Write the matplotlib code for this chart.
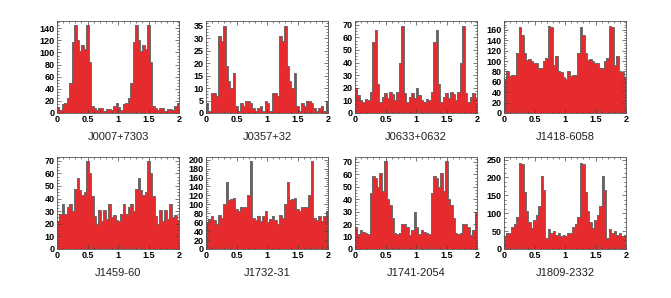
import numpy as np
import matplotlib
matplotlib.use("Agg")
import matplotlib.pyplot as plt
from matplotlib.ticker import MultipleLocator, AutoMinorLocator

plt.rcParams['font.family'] = ['Liberation Sans', 'DejaVu Sans']

# one rotation of each phaseogram (25 bins), shown twice (phase 0-2)
names = ["J0007+7303", "J0357+32", "J0633+0632", "J1418-6058",
         "J1459-60", "J1732-31", "J1741-2054", "J1809-2332"]

j0007 = [10, 5, 15, 16, 25, 50, 118, 145, 120, 103, 112, 105, 145, 85, 12,
         8, 5, 8, 9, 4, 7, 6, 5, 12, 16]
j0357 = [4, 1, 8, 8, 7, 31, 29, 35, 19, 13, 10, 16, 3, 1, 4, 3, 5, 5, 4, 2,
         1, 2, 3, 1, 5]
j0633 = [20, 14, 10, 9, 11, 10, 17, 56, 66, 23, 9, 13, 16, 12, 17, 15, 10,
         17, 40, 69, 16, 9, 13, 16, 12]
j1418 = [65, 80, 72, 74, 74, 115, 165, 150, 115, 102, 103, 101, 96, 96, 87,
         87, 100, 105, 168, 165, 92, 110, 80, 78, 70]
j1459 = [22, 28, 36, 28, 33, 36, 30, 48, 56, 47, 43, 45, 70, 60, 42, 26, 20,
         31, 22, 31, 24, 36, 25, 27, 23]
j1732 = [60, 68, 73, 65, 57, 77, 70, 100, 150, 110, 112, 115, 90, 85, 95, 93,
         95, 120, 198, 70, 65, 75, 62, 75, 85]
j1741 = [18, 12, 15, 14, 13, 12, 45, 59, 57, 50, 61, 47, 71, 40, 35, 25, 13,
         12, 13, 20, 20, 18, 11, 15, 30]
j1809 = [35, 45, 45, 62, 70, 90, 240, 238, 160, 105, 75, 60, 80, 95, 120, 205,
         165, 30, 57, 45, 50, 40, 45, 35, 40]

profiles = [j0007, j0357, j0633, j1418, j1459, j1732, j1741, j1809]
ytops = [152, 37, 73, 177, 73, 206, 74, 257]
ysteps = [20, 5, 10, 20, 10, 20, 10, 50]

W, H = 671, 298
fig = plt.figure(figsize=(W / 100, H / 100), dpi=100)

lefts = [57, 206, 355, 504]
tops = [21, 157]
aw, ah = 122, 92

for i, (name, prof) in enumerate(zip(names, profiles)):
    r, c = divmod(i, 4)
    ax = fig.add_axes([lefts[c] / W, 1 - (tops[r] + ah) / H, aw / W, ah / H])
    vals = np.concatenate([prof, prof])
    edges = np.linspace(0, 2, len(vals) + 1)
    ax.stairs(vals, edges, fill=True, color="#e62b2e", lw=0)
    ax.stairs(vals, edges, color="#6b6b6b", lw=0.7)
    ax.set_xlim(0, 2)
    ax.set_ylim(0, ytops[i])
    ax.xaxis.set_major_locator(MultipleLocator(0.5))
    ax.xaxis.set_minor_locator(MultipleLocator(0.1))
    ax.yaxis.set_major_locator(MultipleLocator(ysteps[i]))
    ax.yaxis.set_minor_locator(AutoMinorLocator(4))
    ax.xaxis.set_major_formatter(plt.FuncFormatter(lambda v, p: f"{v:g}"))
    ax.tick_params(which="both", direction="in", top=True, right=True,
                   labelsize=6.5, pad=1.5, width=0.5, color="#444444")
    ax.tick_params(which="major", length=3)
    ax.tick_params(which="minor", length=1.5)
    for lab in ax.get_xticklabels() + ax.get_yticklabels():
        lab.set_fontweight("bold")
    for s in ax.spines.values():
        s.set_linewidth(0.6)
        s.set_color("#555555")
    ax.text(0.5, -0.26, name, transform=ax.transAxes, ha="center",
            va="center", fontsize=8, color="#222222")

fig.savefig("out.png", dpi=100)
